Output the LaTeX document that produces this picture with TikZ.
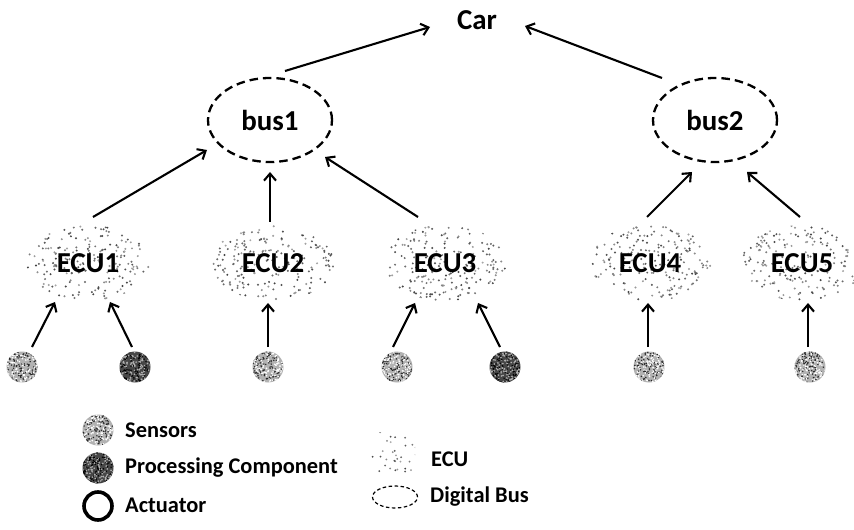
\documentclass[tikz,border=0pt]{standalone}
\usepackage{fontspec}
\setmainfont{Carlito}
\usetikzlibrary{shapes.geometric,arrows.meta,calc}

% scattered grey dots inside an ellipse of radii #1 x #2 (bp), #3 dots of radius #4
\newcommand\speckle[4]{%
  \foreach \k in {1,...,#3}{%
    \pgfmathsetmacro\ang{360*rnd}%
    \pgfmathsetmacro\rad{sqrt(rnd)}%
    \pgfmathsetmacro\dx{\rad*#1*cos(\ang)}%
    \pgfmathsetmacro\dy{\rad*#2*sin(\ang)}%
    \pgfmathsetmacro\tone{int(35+40*rnd)}%
    \fill[black!\tone] ($(path picture bounding box.center)+(\dx bp,\dy bp)$) circle (#4);
  }}

% mottled texture: light and dark grains over a filled disc of radius #3
\newcommand\mottle[3]{%
  \foreach \k in {1,...,120}{%
    \pgfmathsetmacro\dx{#3*(2*rnd-1)}%
    \pgfmathsetmacro\dy{#3*(2*rnd-1)}%
    \fill[#1] ($(path picture bounding box.center)+(\dx bp,\dy bp)$) circle (0.9bp);
    \pgfmathsetmacro\dx{#3*(2*rnd-1)}%
    \pgfmathsetmacro\dy{#3*(2*rnd-1)}%
    \fill[#2] ($(path picture bounding box.center)+(\dx bp,\dy bp)$) circle (0.8bp);
  }}

\tikzset{
  lbl/.style={font=\bfseries\fontsize{29}{31}\selectfont},
  key/.style={font=\bfseries\fontsize{22.5}{25}\selectfont, anchor=west, inner sep=0},
  link/.style={line width=2.1bp, -{Straight Barb[length=7bp,width=12bp]}},
  bus/.style={ellipse, minimum width=124bp, minimum height=84bp, inner sep=0,
    draw, line width=2.3bp, dash pattern=on 8.5bp off 5bp, lbl},
  ecu/.style={ellipse, minimum width=124bp, minimum height=76bp, inner sep=0, lbl,
    path picture={\speckle{61}{38}{190}{1.1bp}}},
  sensor/.style={circle, minimum size=31bp, inner sep=0, fill=gray!60,
    path picture={\mottle{white}{black!85}{15.5}}},
  proc/.style={circle, minimum size=31bp, inner sep=0, fill=black!72,
    path picture={\mottle{gray!60}{black}{15.5}}},
  actuator/.style={circle, minimum size=28bp, inner sep=0, draw, line width=3.6bp},
  ecukey/.style={rectangle, minimum width=46bp, minimum height=40bp, inner sep=0,
    path picture={\speckle{30}{26}{40}{1bp}}},
  buskey/.style={ellipse, minimum width=45bp, minimum height=22bp, inner sep=0,
    draw, line width=1.2bp, dash pattern=on 3.5bp off 2.5bp},
}

\begin{document}
\begin{tikzpicture}[x=1bp,y=-1bp]
\pgfmathsetseed{42}
\useasboundingbox[fill=white] (0,0) rectangle (854,530);

% top level
\node[lbl] (car) at (477,20) {Car};

% digital buses
\node[bus] (b1) at (270,120) {bus1};
\node[bus] (b2) at (715,120) {bus2};

% electronic control units
\node[ecu] (e1) at (88,263) {ECU1};
\node[ecu] (e2) at (273,263) {ECU2};
\node[ecu] (e3) at (445,263) {ECU3};
\node[ecu] (e4) at (650,263) {ECU4};
\node[ecu] (e5) at (802,263) {ECU5};

% sensors and processing components
\node[sensor] (s1) at (22,367) {};
\node[proc]   (s2) at (135,367) {};
\node[sensor] (s3) at (268,367) {};
\node[sensor] (s4) at (397,367) {};
\node[proc]   (s5) at (505,367) {};
\node[sensor] (s6) at (649,367) {};
\node[sensor] (s7) at (810,367) {};

% buses to car
\draw[link] ($(b1)+(15,-49)$) -- ($(car)+(-47,7)$);
\draw[link] ($(b2)+(-53,-42)$) -- ($(car)+(48,6)$);

% ECUs to buses
\draw[link] ($(e1)+(5,-46)$) -- ($(b1)+(-63,30)$);
\draw[link] ($(e2)+(-3,-41)$) -- ($(b1)+(0,52)$);
\draw[link] ($(e3)+(-27,-46)$) -- ($(b1)+(55,37)$);
\draw[link] ($(e4)+(-3,-46)$) -- ($(b2)+(-23,52)$);
\draw[link] ($(e5)+(-2,-46)$) -- ($(b2)+(32,52)$);

% components to ECUs
\draw[link] ($(s1)+(10,-20)$) -- ($(e1)+(-33,39)$);
\draw[link] ($(s2)+(-3,-20)$) -- ($(e1)+(22,39)$);
\draw[link] ($(s3)+(0,-20)$) -- ($(e2)+(-5,40)$);
\draw[link] ($(s4)+(-4,-20)$) -- ($(e3)+(-30,40)$);
\draw[link] ($(s5)+(-5,-20)$) -- ($(e3)+(33,40)$);
\draw[link] ($(s6)+(-1,-20)$) -- ($(e4)+(-2,40)$);
\draw[link] ($(s7)+(-2,-20)$) -- ($(e5)+(6,40)$);

% legend
\node[sensor] (ks) at (98,430) {};
\node[key] (kst) at (125,430) {Sensors};
\node[proc] (kp) at (98,468) {};
\node[key] (kpt) at (125,468) {Processing Component};
\node[actuator] (ka) at (98,506) {};
\node[key] (kat) at (125,505) {Actuator};
\node[ecukey] (ke) at (392,452) {};
\node[key] (ket) at (431,459) {ECU};
\node[buskey] (kb) at (395,497) {};
\node[key] (kbt) at (430,497) {Digital Bus};
\end{tikzpicture}
\end{document}
